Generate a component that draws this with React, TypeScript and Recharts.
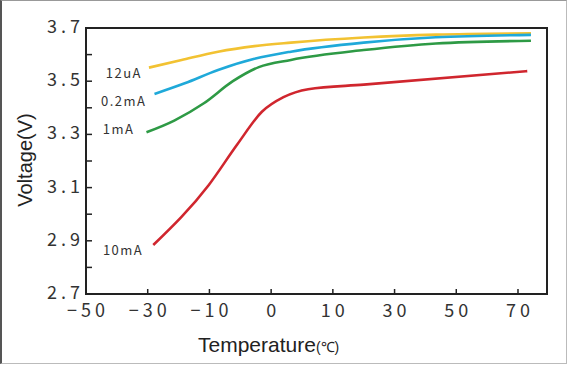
import { LineChart, Line, XAxis, YAxis, ReferenceArea } from "recharts"

// ─── Data ────────────────────────────────────────────────────────────────────

// x axis ticks are evenly spaced positions carrying these labels
const X_TICK_LABELS = ["−50", "−30", "−10", "0", "10", "30", "50", "70"]
const X_TICKS = [0, 1, 2, 3, 4, 5, 6, 7]
const X_DOMAIN = [0, 7.47]

const Y_TICKS = [2.7, 2.8, 2.9, 3.0, 3.1, 3.2, 3.3, 3.4, 3.5, 3.6, 3.7]
const Y_LABELED = [2.7, 2.9, 3.1, 3.3, 3.5, 3.7]

// positions along the x axis (tick index units) and voltages
const POS_12UA = [1.02, 1.55, 2.14, 2.73, 3.32, 4.5, 5.67, 7.21]
const V_12UA = [3.551, 3.58, 3.611, 3.632, 3.645, 3.664, 3.675, 3.68]

const POS_02MA = [1.11, 1.6, 2.14, 2.73, 3.32, 4.5, 5.67, 7.21]
const V_02MA = [3.452, 3.492, 3.542, 3.584, 3.611, 3.645, 3.665, 3.674]

const POS_1MA = [0.98, 1.43, 1.91, 2.38, 2.8, 3.32, 4.5, 5.67, 7.21]
const V_1MA = [3.308, 3.352, 3.417, 3.5, 3.553, 3.58, 3.617, 3.642, 3.652]

const POS_10MA = [1.09, 1.99, 2.45, 2.85, 3.2, 3.6, 4.5, 7.15]
const V_10MA = [2.884, 3.11, 3.262, 3.385, 3.44, 3.47, 3.487, 3.538]

const toRows = (xs: number[], ys: number[]) => xs.map((x, i) => ({ x, v: ys[i] }))

const SERIES = [
    { name: "12uA", data: toRows(POS_12UA, V_12UA), color: "#f2c232", dx: -7, dy: 10 },
    { name: "0.2mA", data: toRows(POS_02MA, V_02MA), color: "#1fa9d9", dx: -8, dy: 12 },
    { name: "1mA", data: toRows(POS_1MA, V_1MA), color: "#2e9a45", dx: -12, dy: 2 },
    { name: "10mA", data: toRows(POS_10MA, V_10MA), color: "#d0262e", dx: -10, dy: 10 },
]

// ─── Styles ──────────────────────────────────────────────────────────────────

const TICK_FONT = "'Noto Sans CJK JP', 'Noto Sans', sans-serif"
const TITLE_FONT = "Arial, 'Liberation Sans', sans-serif"
const INK = "#222"

function XTick({ x, y, payload }: any) {
    return (
        <g>
            <line x1={x} x2={x} y1={y} y2={y - 5} stroke={INK} strokeWidth={1.5} />
            <text x={x + 2} y={y + 23} textAnchor="middle" fontFamily={TICK_FONT} fontSize={18} letterSpacing={4} fill="#333">
                {X_TICK_LABELS[payload.value]}
            </text>
        </g>
    )
}

function YTick({ x, y, payload }: any) {
    const labeled = Y_LABELED.some((t) => Math.abs(t - payload.value) < 1e-6)
    return (
        <g>
            <line x1={x} x2={x + 6} y1={y} y2={y} stroke={INK} strokeWidth={1.5} />
            {labeled && (
                <text x={x - 2} y={y + 5} textAnchor="end" fontFamily={TICK_FONT} fontSize={18} letterSpacing={4} fill="#333">
                    {payload.value.toFixed(1)}
                </text>
            )}
        </g>
    )
}

const seriesLabel = (name: string, dx: number, dy: number) => (props: any) => {
    if (props.index !== 0) return null
    return (
        <text x={props.x + dx} y={props.y + dy} textAnchor="end" fontFamily={TICK_FONT} fontSize={13} letterSpacing={1.5} fill="#333">
            {name}
        </text>
    )
}

export default function App() {
    return (
        <div style={{ position: "absolute", left: 0, top: 0, width: 569, height: 366, background: "#fff" }}>
            <LineChart width={569} height={366} margin={{ top: 28, right: 22, left: 0, bottom: 0 }}>
                <ReferenceArea x1={X_DOMAIN[0]} x2={X_DOMAIN[1]} y1={2.7} y2={3.7} fill="none" stroke={INK} strokeWidth={2} />
                <XAxis
                    type="number"
                    dataKey="x"
                    domain={X_DOMAIN}
                    ticks={X_TICKS}
                    allowDataOverflow
                    height={72}
                    tickSize={0}
                    tickMargin={0}
                    tickLine={false}
                    axisLine={{ stroke: INK, strokeWidth: 2 }}
                    tick={<XTick />}
                    interval={0}
                    label={{
                        content: ({ viewBox }: any) => (
                            <text x={viewBox.x + 112} y={viewBox.y + 58} fontFamily={TITLE_FONT} fontSize={21} fill="#222">
                                Temperature
                                <tspan fontSize={14}>(℃)</tspan>
                            </text>
                        ),
                    }}
                />
                <YAxis
                    type="number"
                    domain={[2.7, 3.7]}
                    ticks={Y_TICKS}
                    allowDataOverflow
                    width={86}
                    tickSize={0}
                    tickMargin={0}
                    tickLine={false}
                    axisLine={{ stroke: INK, strokeWidth: 2 }}
                    tick={<YTick />}
                    interval={0}
                    label={{
                        content: () => (
                            <text x={32} y={160} textAnchor="middle" transform="rotate(-90 32 160)" fontFamily={TITLE_FONT} fontSize={20} fill="#222">
                                Voltage(V)
                            </text>
                        ),
                    }}
                />
                {SERIES.map((s) => (
                    <Line
                        key={s.name}
                        data={s.data}
                        dataKey="v"
                        type="monotone"
                        stroke={s.color}
                        strokeWidth={2.6}
                        dot={false}
                        isAnimationActive={false}
                        label={seriesLabel(s.name, s.dx, s.dy)}
                    />
                ))}
            </LineChart>
            <div
                style={{
                    position: "absolute",
                    left: 0,
                    top: 0,
                    right: 2,
                    bottom: 2,
                    borderTop: "1px solid #999",
                    borderRight: "1px solid #bbb",
                    borderBottom: "1px solid #bbb",
                    borderLeft: "2px solid #555",
                    pointerEvents: "none",
                }}
            />
        </div>
    )
}
